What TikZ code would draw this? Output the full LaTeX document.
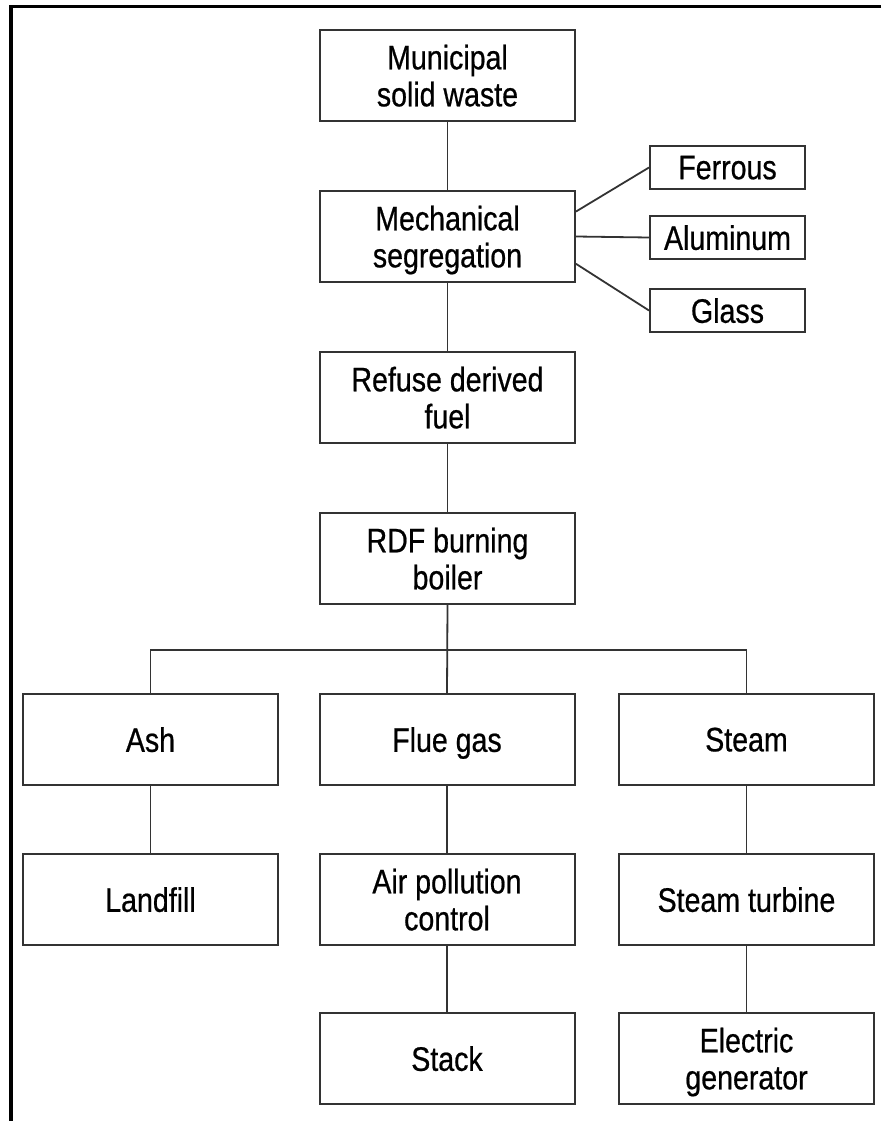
\documentclass[tikz,border=0pt]{standalone}
\usepackage{fontspec}
\setmainfont{Liberation Sans}[FakeStretch=0.84,FakeBold=0.6]

\begin{document}
\begin{tikzpicture}[x=1pt,y=-1pt,
        box/.style={draw=black!80,line width=2pt,minimum width=255pt,minimum height=91pt,
            inner sep=0pt,align=center,text depth=0pt,font=\fontsize{34}{37}\selectfont},
        side/.style={box,minimum width=155pt,minimum height=43pt},
        link/.style={draw=black!80,line width=1.8pt}]
        \useasboundingbox (0,0) rectangle (881,1121);
        \draw[line width=3.6pt] (881,6.5) -- (11,6.5) -- (11,1121);
        \node[box] (muni) at (447.5,75.5) {Municipal\\solid waste};
        \node[box] (mech) at (447.5,236.5) {Mechanical\\segregation};
        \node[box] (refuse) at (447.5,397.5) {Refuse derived\\fuel};
        \node[box] (rdf) at (447.5,558.5) {RDF burning\\boiler};
        \node[side] (ferrous) at (727.5,167.5) {Ferrous};
        \node[side] (alu) at (727.5,237.5) {Aluminum};
        \node[side] (glass) at (727.5,310.5) {Glass};
        \node[box] (ash) at (150.5,739.5) {Ash};
        \node[box] (flue) at (447,739.5) {Flue gas};
        \node[box] (steam) at (746.5,739.5) {Steam};
        \node[box] (landfill) at (150.5,899.5) {Landfill};
        \node[box] (air) at (447,899.5) {Air pollution\\control};
        \node[box] (turbine) at (746.5,899.5) {Steam turbine};
        \node[box] (stack) at (447,1058.5) {Stack};
        \node[box] (gen) at (746.5,1058.5) {Electric\\generator};
        \coordinate (bus) at (447.5,650);
        \draw[link] (muni) -- (mech);
        \draw[link] (mech) -- (refuse);
        \draw[link] (refuse) -- (rdf);
        \draw[link] (mech.11) -- (ferrous.west);
        \draw[link] (mech.east) -- (alu.west);
        \draw[link] (mech.-12) -- (glass.west);
        \draw[link] (rdf.south) -- (flue.north);
        \draw[link] (ash.north) -- (ash.north |- bus) -- (steam.north |- bus) -- (steam.north);
        \draw[link] (ash) -- (landfill);
        \draw[link] (flue) -- (air);
        \draw[link] (steam) -- (turbine);
        \draw[link] (air) -- (stack);
        \draw[link] (turbine) -- (gen);
    \end{tikzpicture}
\end{document}
